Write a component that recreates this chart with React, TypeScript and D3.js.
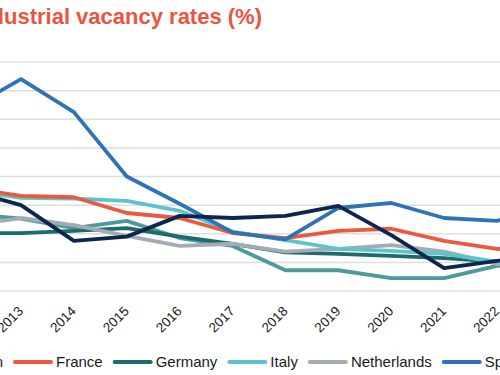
import React from 'react';
import * as d3 from 'd3';

const years = [2012, 2013, 2014, 2015, 2016, 2017, 2018, 2019, 2020, 2021, 2022, 2023];
const tickYears = [2013, 2014, 2015, 2016, 2017, 2018, 2019, 2020, 2021, 2022];
const yTicks = [0, 2, 4, 6, 8, 10, 12, 14, 16];

const britain = [7.05, 6.0, 3.5, 3.8, 5.25, 5.1, 5.25, 5.95, 3.9, 1.6, 2.1, 2.8];
const france = [7.2, 6.65, 6.55, 5.45, 5.1, 4.05, 3.7, 4.2, 4.35, 3.5, 2.95, 2.7];
const germany = [4.05, 4.05, 4.2, 4.4, 3.8, 3.3, 2.7, 2.6, 2.45, 2.3, 2.05, 2.3];
const italy = [7.05, 6.5, 6.45, 6.3, 5.6, 4.15, 3.55, 2.95, 2.8, 2.6, 2.05, 2.2];
const netherlands = [4.55, 5.1, 4.6, 3.85, 3.15, 3.3, 2.75, 2.95, 3.2, 2.75, 1.9, 1.8];
const spain = [12.7, 14.8, 12.5, 8.0, 6.1, 4.1, 3.6, 5.8, 6.15, 5.1, 4.9, 6.0];
const sweden = [5.4, 5.05, 4.4, 4.9, 3.7, 3.15, 1.45, 1.45, 0.9, 0.9, 1.75, 2.2];

const seriesNames = ['Britain', 'France', 'Germany', 'Italy', 'Netherlands', 'Spain', 'Sweden'];
const seriesValues = [britain, france, germany, italy, netherlands, spain, sweden];
const seriesColors = ['#0d2650', '#ea5a40', '#1e6b6b', '#5cc5cb', '#a3abb5', '#2e74b5', '#4b9a9c'];
const drawOrder = ['Sweden', 'Germany', 'Netherlands', 'Italy', 'France', 'Spain', 'Britain'];

const title = 'Industrial vacancy rates (%)';
const FONT = "'Liberation Sans', Arial, sans-serif";

function measure(text: string, font: string): number {
  const c = document.createElement('canvas');
  const ctx = c.getContext('2d');
  if (!ctx) return text.length * 8;
  ctx.font = font;
  return ctx.measureText(text).width;
}

export default function App() {
  const W = 500;
  const H = 375;
  const x = d3.scaleLinear().domain([2013, 2022]).range([21, 497]);
  const y = d3.scaleLinear().domain([0, 16]).range([291, 62]);
  const line = d3
    .line<number>()
    .x((_, i) => x(years[i]))
    .y((d) => y(d));

  const series = seriesNames.map((name, i) => ({ name, color: seriesColors[i], values: seriesValues[i] }));
  const ordered = drawOrder.map((n) => series.find((s) => s.name === n)!);

  // legend layout (the view is a crop of a wider chart)
  const legendFont = `15px ${FONT}`;
  const swatch = 40;
  const gapText = 3;
  const gapItem = 10;
  const widths = series.map((s) => swatch + gapText + measure(s.name, legendFont) + gapItem);
  const franceStart = 13;
  const x0 = franceStart - widths[0];
  const starts: number[] = [];
  let acc = x0;
  widths.forEach((w) => {
    starts.push(acc);
    acc += w;
  });
  const legendY = 362;

  return (
    <svg width={W} height={H} style={{ position: 'absolute', left: 0, top: 0, background: '#fff' }}>
      <text x={262} y={24} textAnchor="end" fontFamily={FONT} fontWeight="bold" fontSize={22} fill="#e9553f">
        {title}
      </text>
      {yTicks.map((t) => (
        <line key={t} x1={0} x2={W} y1={y(t)} y2={y(t)} stroke="#dedede" strokeWidth={1.5} />
      ))}
      {tickYears.map((yr) => (
        <text
          key={yr}
          transform={`translate(${x(yr) + 3},${312}) rotate(-45)`}
          textAnchor="end"
          fontFamily={FONT}
          fontSize={13.5}
          fill="#1a1a1a"
        >
          {yr}
        </text>
      ))}
      {ordered.map((s) => (
        <path
          key={s.name}
          d={line(s.values) || ''}
          fill="none"
          stroke={s.color}
          strokeWidth={3.8}
          strokeLinejoin="round"
          strokeLinecap="round"
        />
      ))}
      {series.map((s, i) =>
        starts[i] < W ? (
          <g key={s.name} transform={`translate(${starts[i]},${legendY})`}>
            <line x1={2} x2={swatch - 2} y1={0} y2={0} stroke={s.color} strokeWidth={4} strokeLinecap="round" />
            <text x={swatch + gapText} y={5} fontFamily={FONT} fontSize={15} fill="#1a1a1a">
              {s.name}
            </text>
          </g>
        ) : null
      )}
    </svg>
  );
}
